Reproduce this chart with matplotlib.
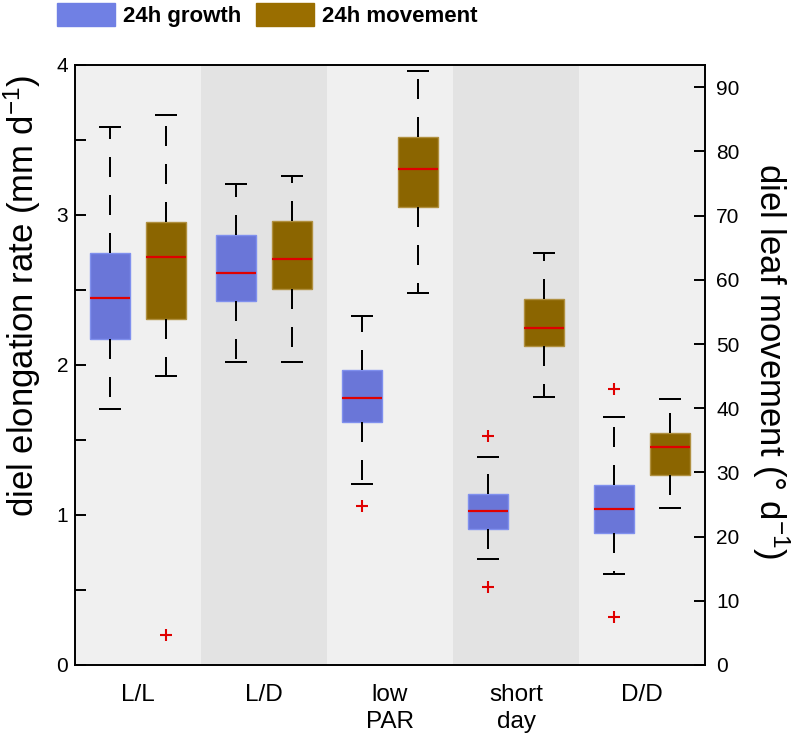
import numpy as np
import matplotlib
matplotlib.use('Agg')
import matplotlib.pyplot as plt
from matplotlib.patches import Patch

plt.rcParams['font.family'] = ['Liberation Sans', 'DejaVu Sans']
plt.rcParams['mathtext.fontset'] = 'custom'
plt.rcParams['mathtext.rm'] = 'Liberation Sans'
plt.rcParams['mathtext.it'] = 'Liberation Sans'

categories = ['L/L', 'L/D', 'low\nPAR', 'short\nday', 'D/D']

# 24h growth, mm d-1 (left axis)
growth_hi = [3.59, 3.21, 2.33, 1.39, 1.655]
growth_q3 = [2.75, 2.87, 1.97, 1.14, 1.20]
growth_med = [2.45, 2.615, 1.78, 1.03, 1.04]
growth_q1 = [2.175, 2.43, 1.62, 0.91, 0.88]
growth_lo = [1.705, 2.02, 1.21, 0.71, 0.61]
growth_fliers = [[], [], [1.06], [1.53, 0.52], [1.84, 0.32]]

# 24h movement, deg d-1 (right axis)
move_hi = [85.6, 76.1, 92.6, 64.1, 41.4]
move_q3 = [69.0, 69.2, 82.2, 57.0, 36.2]
move_med = [63.5, 63.3, 77.3, 52.5, 34.0]
move_q1 = [53.9, 58.6, 71.3, 49.7, 29.6]
move_lo = [45.0, 47.2, 58.0, 41.8, 24.5]
move_fliers = [[4.6], [], [], [], []]


def make_stats(lo, q1, med, q3, hi, fliers):
    out = []
    for i in range(len(med)):
        out.append({'whislo': lo[i], 'q1': q1[i], 'med': med[i], 'q3': q3[i],
                    'whishi': hi[i], 'fliers': fliers[i]})
    return out


fig = plt.figure(figsize=(7.93, 7.35), dpi=100)
ax = fig.add_axes([75/793, 70/735, 630/793, 600/735])
ax2 = ax.twinx()

x = np.arange(1, len(categories) + 1)
for i in range(len(categories)):
    ax.axvspan(x[i] - 0.5, x[i] + 0.5, color='#f0f0f0' if i % 2 == 0 else '#e3e3e3', lw=0, zorder=0)

off = 0.22
bw = 0.32
whisk = dict(color='black', lw=1.44, linestyle=(0, (10, 9)))
caps = dict(color='black', lw=1.44)
med = dict(color='#e00000', lw=1.6)
fl = dict(marker='+', markeredgecolor='#e00000', markersize=9, markeredgewidth=1.5, linestyle='none')

ax.bxp(make_stats(growth_lo, growth_q1, growth_med, growth_q3, growth_hi, growth_fliers),
       positions=x - off, widths=bw, capwidths=0.16, patch_artist=True, manage_ticks=False,
       boxprops=dict(facecolor='#6a76d8', edgecolor='#8090ee', lw=1),
       whiskerprops=whisk, capprops=caps, medianprops=med, flierprops=fl)
ax2.bxp(make_stats(move_lo, move_q1, move_med, move_q3, move_hi, move_fliers),
        positions=x + off, widths=bw, capwidths=0.16, patch_artist=True, manage_ticks=False,
        boxprops=dict(facecolor='#8b6500', edgecolor='#b09040', lw=1),
        whiskerprops=whisk, capprops=caps, medianprops=med, flierprops=fl)

ax.set_xlim(0.5, 5.5)
ax.set_ylim(0, 4)
ax2.set_ylim(0, 93.46)

ax.set_xticks(x)
ax.set_xticklabels(categories, fontsize=17.5, linespacing=1.25)
ax.tick_params(axis='x', length=0, pad=14)

ax.set_yticks(np.arange(0, 4.01, 0.5))
ax.set_yticklabels(['0', '', '1', '', '2', '', '3', '', '4'], fontsize=15)
ax.tick_params(axis='y', direction='in', length=8, width=1.4, pad=5)
ax2.set_yticks(np.arange(0, 91, 10))
ax2.tick_params(axis='y', direction='in', length=8, width=1.4, pad=8, labelsize=15)

for s in ['left', 'top', 'bottom']:
    ax.spines[s].set_linewidth(1.4)
ax.spines['right'].set_visible(False)
ax2.spines['right'].set_linewidth(1.4)
for s in ['left', 'top', 'bottom']:
    ax2.spines[s].set_visible(False)

# left label hangs from the top of the axes, right one is centred
ax.set_ylabel('diel elongation rate (mm d$^{-1}$)', fontsize=25, va='center', ha='right')
ax.yaxis.set_label_coords(-0.084, 0.983)
ax2.set_ylabel('diel leaf movement (\u00b0 d$^{-1}$)', fontsize=25, rotation=270, va='center', ha='center')
ax2.yaxis.set_label_coords(1.104, 0.507)

handles = [Patch(facecolor='#7080e4', edgecolor='#7080e4'),
           Patch(facecolor='#9a6e00', edgecolor='#9a6e00')]
fig.legend(handles, ['24h growth', '24h movement'], loc='upper left',
           bbox_to_anchor=(57/793, 1 - 3/735), ncol=2, frameon=False,
           borderpad=0, borderaxespad=0, handlelength=2.6, handleheight=1.2,
           handletextpad=0.35, columnspacing=0.7,
           prop={'weight': 'bold', 'size': 16})

fig.savefig('out.png', dpi=100)
